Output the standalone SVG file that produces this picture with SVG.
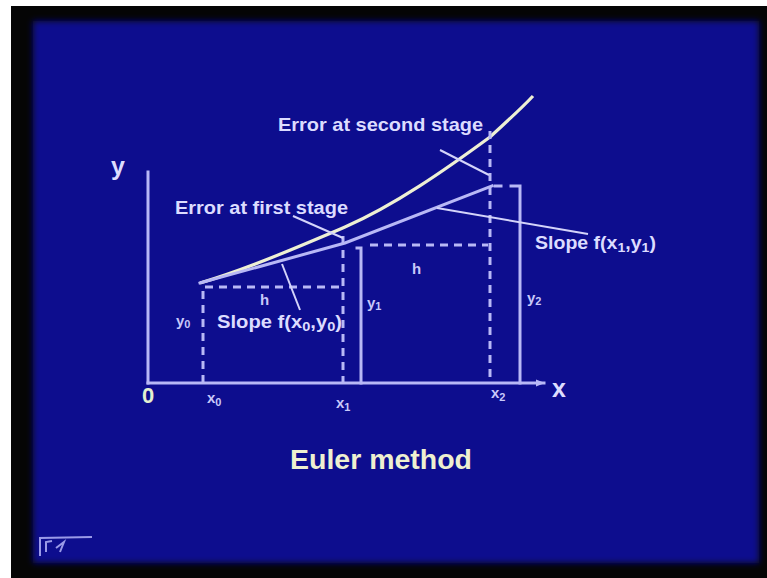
<svg xmlns="http://www.w3.org/2000/svg" width="767" height="578" viewBox="0 0 767 578">
<defs>
<style>
.ln{stroke:#b8b8f6;stroke-width:3;fill:none;stroke-linecap:square}
.ds{stroke:#b8b8f6;stroke-width:3;fill:none;stroke-dasharray:8 6}
.pt{stroke:#d4d4fa;stroke-width:2;fill:none}
.cv{stroke:#eef0d4;stroke-width:3.2;fill:none}
.t{font-family:"Liberation Sans",Arial,sans-serif;font-weight:bold;fill:#dcdcff}
.lb{font-family:"Liberation Sans",Arial,sans-serif;font-weight:bold;fill:#c8c8fa;font-size:15px}
</style>
<filter id="soft" x="-5%" y="-5%" width="110%" height="110%"><feGaussianBlur stdDeviation="3"/></filter>
<marker id="ah" viewBox="0 0 10 10" refX="9" refY="5" markerWidth="3" markerHeight="3" orient="auto"><path d="M0,1 L10,5 L0,9 z" fill="#b8b8f6"/></marker>
</defs>
<rect x="0" y="0" width="767" height="578" fill="#ffffff"/>
<rect x="11" y="6" width="756" height="572" fill="#050505"/>
<rect x="33" y="21" width="726" height="542" fill="#10108e" filter="url(#soft)"/>

<g id="connectors">
<line id="y-axis" class="ln" x1="148" y1="172" x2="148" y2="383"/>
<line id="x-axis" class="ln" x1="148" y1="383" x2="544" y2="383" marker-end="url(#ah)"/>
<path id="exact-curve" class="cv" d="M200,283 C250,268 300,246 345,227 C395,205 445,170 490,137 C505,123 520,110 533,96"/>
<polyline id="euler" class="ln" points="200,283 345,243 492,186"/>
<line class="ds" x1="205" y1="287" x2="343" y2="287"/>
<line class="ds" x1="203" y1="291" x2="203" y2="383"/>
<line class="ds" x1="343" y1="236" x2="343" y2="383"/>
<line class="ds" x1="370" y1="245" x2="488" y2="245"/>
<line class="ds" x1="490" y1="131" x2="490" y2="383"/>
<polyline class="ln" points="357,248 361,248 361,383"/>
<polyline class="ln" points="511,186 520,186 520,383"/>
<line class="ln" x1="495" y1="186" x2="501" y2="186"/>
<line class="pt" x1="293" y1="216" x2="343" y2="238"/>
<line class="pt" x1="440" y1="150" x2="489" y2="175"/>
<line class="pt" x1="282" y1="264" x2="300" y2="310"/>
<line class="pt" x1="437" y1="208" x2="588" y2="234"/>
</g>

<g id="axis-labels">
<text class="t" x="111" y="175" font-size="25">y</text>
<text class="t" x="552" y="397" font-size="25">x</text>
<text class="t" x="142" y="403" font-size="22" style="fill:#e4f0d0">0</text>
<text class="lb" x="207" y="403">x<tspan font-size="11" dy="3">0</tspan></text>
<text class="lb" x="336" y="408">x<tspan font-size="11" dy="3">1</tspan></text>
<text class="lb" x="491" y="398">x<tspan font-size="11" dy="3">2</tspan></text>
<text class="lb" x="176" y="326">y<tspan font-size="11" dy="2">0</tspan></text>
<text class="lb" x="367" y="308">y<tspan font-size="11" dy="2">1</tspan></text>
<text class="lb" x="527" y="303">y<tspan font-size="11" dy="2">2</tspan></text>
<text class="lb" x="260" y="305">h</text>
<text class="lb" x="412" y="274">h</text>
</g>

<g id="label-error-first">
<text class="t" x="175" y="214" font-size="18" textLength="173" lengthAdjust="spacingAndGlyphs">Error at first stage</text>
</g>
<g id="label-error-second">
<text class="t" x="278" y="131" font-size="19" textLength="205" lengthAdjust="spacingAndGlyphs">Error at second stage</text>
</g>
<g id="label-slope0">
<text class="t" x="217" y="328" font-size="18" textLength="125" lengthAdjust="spacingAndGlyphs">Slope f(x<tspan font-size="13" dy="3">0</tspan><tspan dy="-3">,y</tspan><tspan font-size="13" dy="3">0</tspan><tspan dy="-3">)</tspan></text>
</g>
<g id="label-slope1">
<text class="t" x="535" y="249" font-size="18" textLength="121" lengthAdjust="spacingAndGlyphs">Slope f(x<tspan font-size="13" dy="3">1</tspan><tspan dy="-3">,y</tspan><tspan font-size="13" dy="3">1</tspan><tspan dy="-3">)</tspan></text>
</g>
<g id="title">
<text class="t" x="290" y="469" font-size="28" textLength="182" lengthAdjust="spacingAndGlyphs" style="fill:#eef0d0">Euler method</text>
</g>
<g id="logo" fill="none" stroke="#9a9ae8" stroke-width="2">
<path d="M40,556 L40,538 L92,537"/>
<path d="M46,552 L46,542 L52,541 M56,548 L64,542 L60,552"/>
</g>
</svg>
